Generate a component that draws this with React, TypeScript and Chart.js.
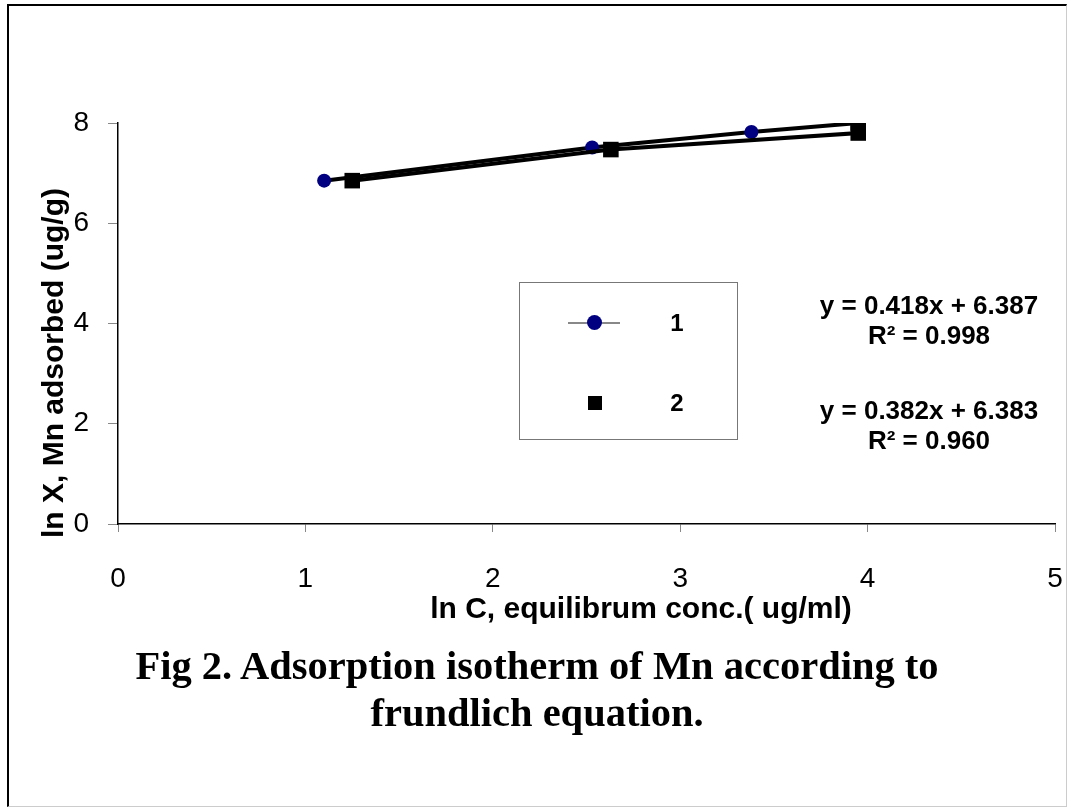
import React, { useEffect, useRef } from "react";
import { Chart, registerables } from "chart.js";

Chart.register(...registerables);

const series1X = [1.1, 2.53, 3.38, 3.95];
const series1Y = [6.85, 7.51, 7.82, 8.0];
const series2X = [1.25, 2.63, 3.95, 3.95];
const series2Y = [6.85, 7.47, 7.8, 8.0];
const seriesNames = ["1", "2"];
const equations = ["y = 0.418x + 6.387", "R² = 0.998", "y = 0.382x + 6.383", "R² = 0.960"];
const xTitle = "ln C, equilibrum conc.( ug/ml)";
const yTitle = "ln X, Mn adsorbed (ug/g)";
const captionLines = ["Fig 2. Adsorption isotherm of Mn according to", "frundlich equation."];

const SANS = "'Liberation Sans', Arial, sans-serif";
const SERIF = "'Liberation Serif', 'Times New Roman', serif";

export default function App() {
  const ref = useRef<HTMLCanvasElement | null>(null);

  useEffect(() => {
    if (!ref.current) return;
    const chart = new Chart(ref.current, {
      type: "line",
      data: {
        datasets: [
          {
            label: seriesNames[0],
            data: series1X.map((x, i) => ({ x, y: series1Y[i] })),
            borderColor: "#000",
            borderWidth: 4,
            pointStyle: "circle",
            pointRadius: 7,
            pointBackgroundColor: "#000080",
            pointBorderColor: "#000080",
            pointBorderWidth: 0,
            order: 2,
          },
          {
            label: seriesNames[1],
            data: series2X.map((x, i) => ({ x, y: series2Y[i] })),
            borderColor: "#000",
            borderWidth: 4,
            pointStyle: "rect",
            pointRadius: 11,
            pointBackgroundColor: "#000",
            pointBorderColor: "#000",
            pointBorderWidth: 0,
            order: 1,
          },
        ],
      },
      options: {
        animation: false,
        responsive: false,
        devicePixelRatio: 1,
        layout: { padding: { left: 0, right: 15, top: 123, bottom: 0 } },
        plugins: { legend: { display: false }, tooltip: { enabled: false }, title: { display: false } },
        scales: {
          x: {
            type: "linear",
            min: 0,
            max: 5,
            ticks: { stepSize: 1, color: "#000", font: { family: SANS, size: 28 }, padding: 30 },
            grid: { drawOnChartArea: false, drawTicks: true, tickLength: 8, color: "#888" },
            border: { color: "#000", width: 1.5 },
            afterFit: (s: any) => { s.height = 810 - 524; s.paddingRight = 0; s.paddingLeft = 0; },
          },
          y: {
            type: "linear",
            min: 0,
            max: 8,
            ticks: { stepSize: 2, color: "#000", font: { family: SANS, size: 28 }, padding: 19 },
            grid: { drawOnChartArea: false, drawTicks: true, tickLength: 10, color: "#888" },
            border: { color: "#000", width: 1.5 },
            afterFit: (s: any) => { s.width = 118; s.paddingTop = 0; s.paddingBottom = 0; },
          },
        },
      },
    });
    return () => chart.destroy();
  }, []);

  const abs = (o: React.CSSProperties): React.CSSProperties => ({ position: "absolute", ...o });

  return (
    <div style={abs({ left: 0, top: 0, width: 1070, height: 810, background: "#fff", overflow: "hidden" })}>
      <canvas ref={ref} width={1070} height={810} style={abs({ left: 0, top: 0, width: 1070, height: 810 })} />
      <div style={abs({ left: 7, top: 4, width: 1060, height: 803, borderLeft: "2px solid #000", borderTop: "2px solid #000", borderRight: "1px solid #ccc", borderBottom: "1px solid #ccc", boxSizing: "border-box" })} />
      {/* y axis title */}
      <div style={abs({ left: 53, top: 363, transform: "translate(-50%, -50%) rotate(-90deg)", whiteSpace: "nowrap", fontFamily: SANS, fontWeight: "bold", fontSize: 30, color: "#000" })}>{yTitle}</div>
      {/* x axis title */}
      <div style={abs({ left: 641, top: 608, transform: "translate(-50%, -50%)", whiteSpace: "nowrap", fontFamily: SANS, fontWeight: "bold", fontSize: 30, color: "#000" })}>{xTitle}</div>
      {/* legend */}
      <div style={abs({ left: 519, top: 282, width: 219, height: 158, border: "1px solid #777", boxSizing: "border-box", background: "#fff" })}>
        <div style={abs({ left: 48, top: 39, width: 52, height: 2, background: "#888" })} />
        <div style={abs({ left: 67, top: 32, width: 15, height: 15, borderRadius: "50%", background: "#000080" })} />
        <div style={abs({ left: 157, top: 40, transform: "translate(-50%, -50%)", fontFamily: SANS, fontWeight: "bold", fontSize: 24 })}>{seriesNames[0]}</div>
        <div style={abs({ left: 68, top: 113, width: 14, height: 14, background: "#000" })} />
        <div style={abs({ left: 157, top: 120, transform: "translate(-50%, -50%)", fontFamily: SANS, fontWeight: "bold", fontSize: 24 })}>{seriesNames[1]}</div>
      </div>
      {/* equations */}
      {equations.map((t, i) => (
        <div key={i} style={abs({ left: 929, top: [305, 335, 410, 440][i], transform: "translate(-50%, -50%)", whiteSpace: "nowrap", fontFamily: SANS, fontWeight: "bold", fontSize: 26 })}>{t}</div>
      ))}
      {/* caption */}
      {captionLines.map((t, i) => (
        <div key={i} style={abs({ left: 537, top: [665, 712][i], transform: "translate(-50%, -50%)", whiteSpace: "nowrap", fontFamily: SERIF, fontWeight: "bold", fontSize: 40.5 })}>{t}</div>
      ))}
    </div>
  );
}
